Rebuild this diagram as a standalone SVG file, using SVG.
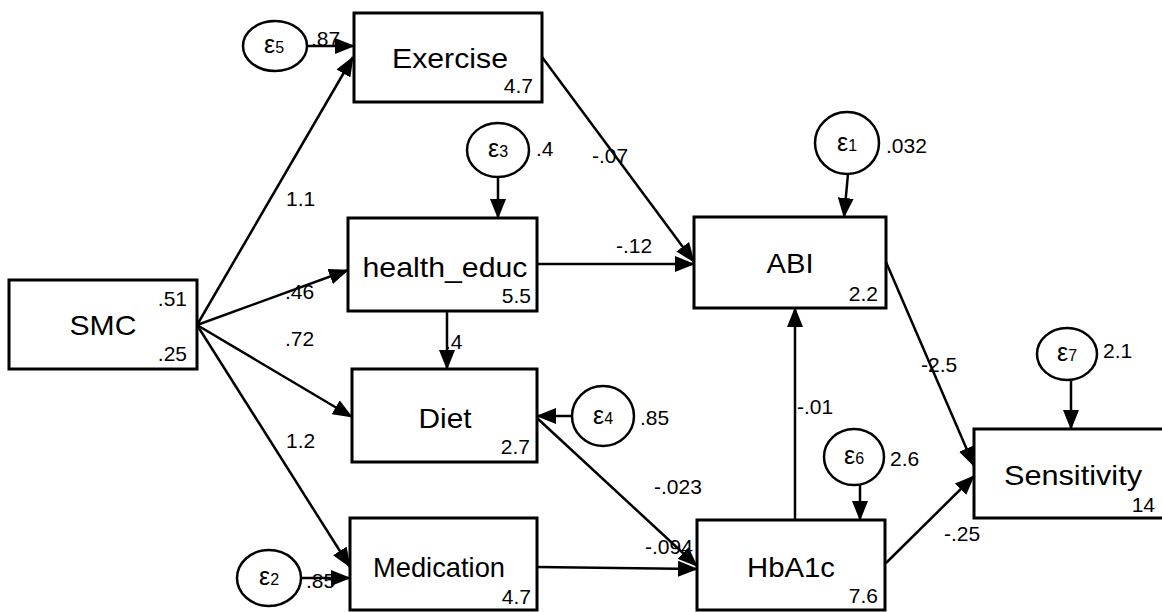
<svg xmlns="http://www.w3.org/2000/svg" width="1162" height="612" viewBox="0 0 1162 612">
<style>
.box{fill:#fff;stroke:#000;stroke-width:3}
.err{fill:#fff;stroke:#000;stroke-width:2.5}
.lbl{font-family:"Liberation Sans",Arial,sans-serif;font-size:28px;text-anchor:middle;fill:#000}
.num{font-family:"Liberation Sans",Arial,sans-serif;font-size:21px;text-anchor:end;fill:#000}
.el{font-family:"Liberation Sans",Arial,sans-serif;font-size:21px;fill:#000}
.eps{font-family:"Liberation Sans","DejaVu Sans",sans-serif;font-size:25px;text-anchor:middle;fill:#000}
.eps tspan{font-size:16px}
.edge{stroke:#000;stroke-width:2.5;fill:none;marker-end:url(#arr)}
</style>
<defs>
<marker id="arr" markerWidth="20" markerHeight="16" refX="19" refY="8" orient="auto" markerUnits="userSpaceOnUse"><path d="M0,0 L20,8 L0,16 z" fill="#000"/></marker>
</defs>
<rect width="1162" height="612" fill="#fff"/>
<g id="edge-labels">
<text class="el" x="311" y="46">.87</text>
<text class="el" x="536" y="156">.4</text>
<text class="el" x="886" y="153">.032</text>
<text class="el" x="286" y="206">1.1</text>
<text class="el" x="285" y="299">.46</text>
<text class="el" x="285" y="346">.72</text>
<text class="el" x="286" y="448">1.2</text>
<text class="el" x="445" y="349">.4</text>
<text class="el" x="592" y="163">-.07</text>
<text class="el" x="616" y="253">-.12</text>
<text class="el" x="921" y="372">-2.5</text>
<text class="el" x="797" y="414">-.01</text>
<text class="el" x="640" y="425">.85</text>
<text class="el" x="890" y="466">2.6</text>
<text class="el" x="1103" y="358">2.1</text>
<text class="el" x="654" y="494">-.023</text>
<text class="el" x="645" y="554">-.094</text>
<text class="el" x="944" y="541">-.25</text>
<text class="el" x="306" y="588">.85</text>
</g>
<g id="connectors">
<line class="edge" x1="307" y1="46" x2="354" y2="46"/>
<line class="edge" x1="197" y1="325" x2="353" y2="57"/>
<line class="edge" x1="197" y1="325" x2="348" y2="270"/>
<line class="edge" x1="197" y1="325" x2="352" y2="417"/>
<line class="edge" x1="197" y1="325" x2="350" y2="567"/>
<line class="edge" x1="498" y1="177" x2="498" y2="218"/>
<line class="edge" x1="447" y1="311" x2="447" y2="369"/>
<line class="edge" x1="572" y1="416" x2="537" y2="416"/>
<line class="edge" x1="542" y1="57" x2="694" y2="262"/>
<line class="edge" x1="537" y1="264" x2="694" y2="264"/>
<line class="edge" x1="848" y1="174" x2="844" y2="217"/>
<line class="edge" x1="795" y1="520" x2="795" y2="308"/>
<line class="edge" x1="886" y1="262" x2="974" y2="466"/>
<line class="edge" x1="886" y1="563" x2="974" y2="476"/>
<line class="edge" x1="860" y1="485" x2="860" y2="520"/>
<line class="edge" x1="1071" y1="380" x2="1071" y2="429"/>
<line class="edge" x1="537" y1="418" x2="697" y2="566"/>
<line class="edge" x1="537" y1="567" x2="697" y2="569"/>
<line class="edge" x1="301" y1="578" x2="350" y2="578"/>
</g>
<g id="SMC">
<rect class="box" x="9" y="280" width="188" height="89"/>
<text class="lbl" x="103" y="335" textLength="67" lengthAdjust="spacingAndGlyphs">SMC</text>
<text class="num" x="187" y="306">.51</text>
<text class="num" x="187" y="361">.25</text>
</g>
<g id="Exercise">
<rect class="box" x="354" y="13" width="188" height="89"/>
<text class="lbl" x="450" y="68" textLength="116" lengthAdjust="spacingAndGlyphs">Exercise</text>
<text class="num" x="533" y="93">4.7</text>
</g>
<g id="health_educ">
<rect class="box" x="348" y="218" width="189" height="93"/>
<text class="lbl" x="445" y="277" textLength="165" lengthAdjust="spacingAndGlyphs">health_educ</text>
<text class="num" x="531" y="303">5.5</text>
</g>
<g id="Diet">
<rect class="box" x="352" y="369" width="185" height="93"/>
<text class="lbl" x="445" y="428" textLength="53" lengthAdjust="spacingAndGlyphs">Diet</text>
<text class="num" x="530" y="454">2.7</text>
</g>
<g id="Medication">
<rect class="box" x="350" y="518" width="187" height="92"/>
<text class="lbl" x="439" y="577" textLength="132" lengthAdjust="spacingAndGlyphs">Medication</text>
<text class="num" x="531" y="604">4.7</text>
</g>
<g id="ABI">
<rect class="box" x="694" y="217" width="192" height="91"/>
<text class="lbl" x="790" y="273" textLength="47" lengthAdjust="spacingAndGlyphs">ABI</text>
<text class="num" x="878" y="301">2.2</text>
</g>
<g id="HbA1c">
<rect class="box" x="697" y="520" width="188" height="90"/>
<text class="lbl" x="791" y="577" textLength="88" lengthAdjust="spacingAndGlyphs">HbA1c</text>
<text class="num" x="878" y="603">7.6</text>
</g>
<g id="Sensitivity">
<rect class="box" x="974" y="429" width="192" height="89"/>
<text class="lbl" x="1073" y="485" textLength="138" lengthAdjust="spacingAndGlyphs">Sensitivity</text>
<text class="num" x="1155" y="512">14</text>
</g>
<g id="e5"><ellipse class="err" cx="275" cy="46" rx="32" ry="25"/><text class="eps" x="274" y="53">ε<tspan>5</tspan></text></g>
<g id="e3"><ellipse class="err" cx="498" cy="150" rx="31" ry="27"/><text class="eps" x="498" y="157">ε<tspan>3</tspan></text></g>
<g id="e1"><ellipse class="err" cx="847" cy="143" rx="32" ry="31"/><text class="eps" x="847" y="151">ε<tspan>1</tspan></text></g>
<g id="e4"><ellipse class="err" cx="603" cy="416" rx="31" ry="30"/><text class="eps" x="603" y="424">ε<tspan>4</tspan></text></g>
<g id="e2"><ellipse class="err" cx="269" cy="578" rx="32" ry="28"/><text class="eps" x="269" y="585">ε<tspan>2</tspan></text></g>
<g id="e6"><ellipse class="err" cx="854" cy="457" rx="30" ry="28"/><text class="eps" x="854" y="464">ε<tspan>6</tspan></text></g>
<g id="e7"><ellipse class="err" cx="1067" cy="354" rx="30" ry="26"/><text class="eps" x="1067" y="361">ε<tspan>7</tspan></text></g>
</svg>
